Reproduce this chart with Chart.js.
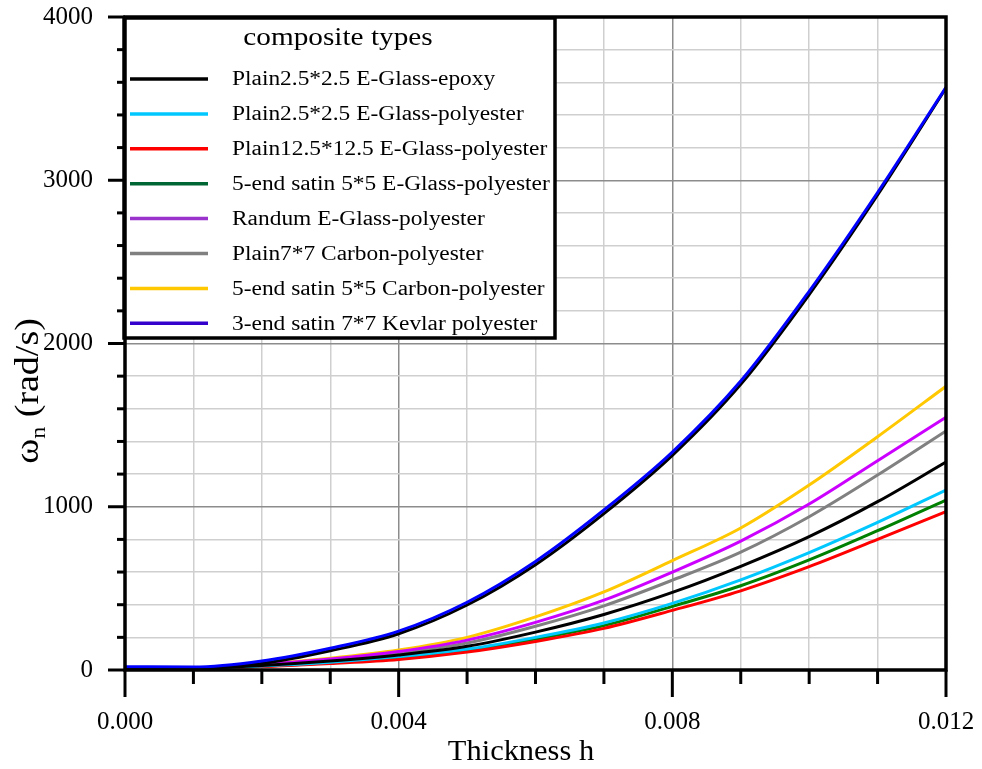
<!DOCTYPE html>
<html>
<head>
<meta charset="utf-8">
<script src="https://cdn.jsdelivr.net/npm/chart.js@4.4.1/dist/chart.umd.min.js"></script>
<style>
  html, body { margin:0; padding:0; background:#fff; }
  #wrap { width:982px; height:769px; position:relative; }
</style>
</head>
<body>
<div id="wrap"><canvas id="chart"></canvas></div>
<script>
// thickness h (x) and natural frequency omega_n in rad/s (y)
const thickness = [0, 0.001, 0.002, 0.003, 0.004, 0.005, 0.006, 0.007, 0.008, 0.009, 0.010, 0.011, 0.012];

const seriesNames = [
  'Plain2.5*2.5 E-Glass-epoxy',
  'Plain2.5*2.5 E-Glass-polyester',
  'Plain12.5*12.5 E-Glass-polyester',
  '5-end satin 5*5 E-Glass-polyester',
  'Randum E-Glass-polyester',
  'Plain7*7 Carbon-polyester',
  '5-end satin 5*5 Carbon-polyester',
  '3-end satin 7*7 Kevlar polyester'
];

const plainEGlassEpoxy     = [9, 11, 28, 55, 92, 145, 232, 340, 475, 635, 817, 1031, 1274];
const plainEGlassPoly      = [8, 10, 25, 48, 82, 128, 200, 288, 408, 552, 719, 904, 1102];
const plain125EGlassPoly   = [5, 7, 20, 40, 65, 110, 175, 255, 365, 485, 633, 800, 970];
const satin55EGlassPoly    = [7, 9, 23, 45, 75, 120, 190, 272, 390, 516, 674, 853, 1041];
const randumEGlassPoly     = [11, 13, 34, 67, 113, 183, 292, 428, 600, 790, 1017, 1282, 1548];
const plain77CarbonPoly    = [10, 12, 32, 62, 104, 165, 268, 393, 550, 722, 939, 1194, 1464];
const satin55CarbonPoly    = [12, 14, 36, 72, 122, 200, 325, 478, 670, 870, 1133, 1429, 1738];
const satin77KevlarPoly    = [20, 18, 55, 133, 238, 415, 665, 980, 1335, 1770, 2320, 2925, 3570];
// unlabelled black curve lying just under the Kevlar one
const unlabelledCurve      = [15, 12, 40, 118, 222, 398, 645, 958, 1315, 1750, 2300, 2910, 3565];

const seriesValues = [plainEGlassEpoxy, plainEGlassPoly, plain125EGlassPoly, satin55EGlassPoly,
  randumEGlassPoly, plain77CarbonPoly, satin55CarbonPoly, satin77KevlarPoly];

const lineColors   = ['#000000', '#00c8ff', '#ff0000', '#008000', '#cc00ff', '#808080', '#ffc800', '#0000ff'];
const legendColors = ['#000000', '#00c8ff', '#ff0000', '#006633', '#9933cc', '#808080', '#ffc800', '#3300cc'];

const SERIF = '"Liberation Serif", "Times New Roman", serif';

const toPoints = vals => vals.map((v, i) => ({ x: thickness[i], y: v }));

function lineDs(label, vals, color, order) {
  return {
    label, data: toPoints(vals), borderColor: color, backgroundColor: color,
    borderWidth: 3, pointRadius: 0, fill: false,
    cubicInterpolationMode: 'monotone', order
  };
}

// Kevlar on top, then the black curve beneath it, then the rest
const datasets = [lineDs(seriesNames[7], satin77KevlarPoly, lineColors[7], 0),
  lineDs('', unlabelledCurve, '#000000', 1)];
for (let i = 0; i < 7; i++) datasets.push(lineDs(seriesNames[i], seriesValues[i], lineColors[i], 2 + i));

// text squeezed wider, like the reference figure
function wideText(ctx, text, x, y, sx, align) {
  const w = ctx.measureText(text).width * sx;
  const x0 = align === 'center' ? x - w / 2 : x;
  ctx.save();
  ctx.translate(x0, y);
  ctx.scale(sx, 1);
  ctx.textAlign = 'left';
  ctx.fillText(text, 0, 0);
  ctx.restore();
}

const figure = {
  id: 'figure',
  afterDatasetsDraw(chart) {
    const ctx = chart.ctx;
    // legend box
    const lx = 124, ly = 18, lw = 431, lh = 320;
    ctx.save();
    ctx.fillStyle = '#fff';
    ctx.fillRect(lx, ly, lw, lh);
    ctx.strokeStyle = '#000';
    ctx.lineWidth = 3.5;
    ctx.strokeRect(lx, ly, lw, lh);
    ctx.fillStyle = '#000';
    ctx.textBaseline = 'middle';
    ctx.font = `25px ${SERIF}`;
    wideText(ctx, 'composite types', 338, 38, 1.17, 'center');
    ctx.font = `20px ${SERIF}`;
    seriesNames.forEach((name, i) => {
      const y = 79 + i * 34.9;
      ctx.strokeStyle = legendColors[i];
      ctx.lineWidth = 3.5;
      ctx.beginPath(); ctx.moveTo(130, y); ctx.lineTo(208, y); ctx.stroke();
      ctx.fillStyle = '#000';
      wideText(ctx, name, 232, y + 1, 1.17, 'left');
    });
    ctx.restore();
  },
  afterDraw(chart) {
    const ctx = chart.ctx;
    const { left, right, top, bottom } = chart.chartArea;
    const xs = chart.scales.x, ys = chart.scales.y;
    ctx.save();
    ctx.strokeStyle = '#000';
    ctx.lineWidth = 3;
    // tick marks, long for labelled values
    ys.ticks.forEach(t => {
      const y = ys.getPixelForValue(t.value);
      const len = Math.round(t.value) % 1000 === 0 ? 17 : 8;
      ctx.beginPath(); ctx.moveTo(left - len, y); ctx.lineTo(left, y); ctx.stroke();
    });
    xs.ticks.forEach((t, i) => {
      const x = xs.getPixelForValue(t.value);
      const len = i % 4 === 0 ? 27 : 14;
      ctx.beginPath(); ctx.moveTo(x, bottom); ctx.lineTo(x, bottom + len); ctx.stroke();
    });
    // frame
    ctx.lineWidth = 3.5;
    ctx.strokeRect(left, top, right - left, bottom - top);
    // axis titles
    ctx.fillStyle = '#000';
    ctx.textBaseline = 'alphabetic';
    ctx.font = `29px ${SERIF}`;
    wideText(ctx, 'Thickness h', 521, 760, 1.05, 'center');

    ctx.translate(38, 391);
    ctx.rotate(-Math.PI / 2);
    ctx.scale(1.15, 1);
    const big = `33px ${SERIF}`, small = `21px ${SERIF}`;
    ctx.font = big; const wOmega = ctx.measureText('ω').width, wRest = ctx.measureText(' (rad/s)').width;
    ctx.font = small; const wSub = ctx.measureText('n').width;
    const x0 = -(wOmega + wSub + wRest) / 2;
    ctx.textAlign = 'left';
    ctx.font = big; ctx.fillText('ω', x0, 0);
    ctx.font = small; ctx.fillText('n', x0 + wOmega, 7);
    ctx.font = big; ctx.fillText(' (rad/s)', x0 + wOmega + wSub, 0);
    ctx.restore();
  }
};

new Chart(document.getElementById('chart'), {
  type: 'line',
  data: { datasets },
  options: {
    responsive: true, maintainAspectRatio: false, animation: false, devicePixelRatio: 1,
    layout: { padding: { top: 17, right: 36, left: 0, bottom: 0 } },
    plugins: { legend: { display: false }, tooltip: { enabled: false } },
    scales: {
      x: {
        type: 'linear', min: 0, max: 0.012,
        afterFit: s => { s.height = 99; s.paddingLeft = 0; s.paddingRight = 0; },
        border: { display: false },
        grid: {
          drawTicks: false,
          color: c => c.index % 4 === 0 ? '#8c8c8c' : '#cfcfcf',
          lineWidth: 1.5
        },
        ticks: {
          stepSize: 0.001, padding: 37, color: '#000', maxRotation: 0, autoSkip: false,
          font: { family: SERIF, size: 25 },
          callback: (v, i) => i % 4 === 0 ? v.toFixed(3) : ''
        }
      },
      y: {
        min: 0, max: 4000,
        afterFit: s => { s.width = 125; s.paddingTop = 0; s.paddingBottom = 0; },
        border: { display: false },
        grid: {
          drawTicks: false,
          color: c => Math.round(c.tick.value) % 1000 === 0 ? '#8c8c8c' : '#cfcfcf',
          lineWidth: 1.5
        },
        ticks: {
          stepSize: 200, padding: 32, color: '#000', autoSkip: false,
          font: { family: SERIF, size: 25 },
          callback: v => Math.round(v) % 1000 === 0 ? String(v) : ''
        }
      }
    }
  },
  plugins: [figure]
});
</script>
</body>
</html>
